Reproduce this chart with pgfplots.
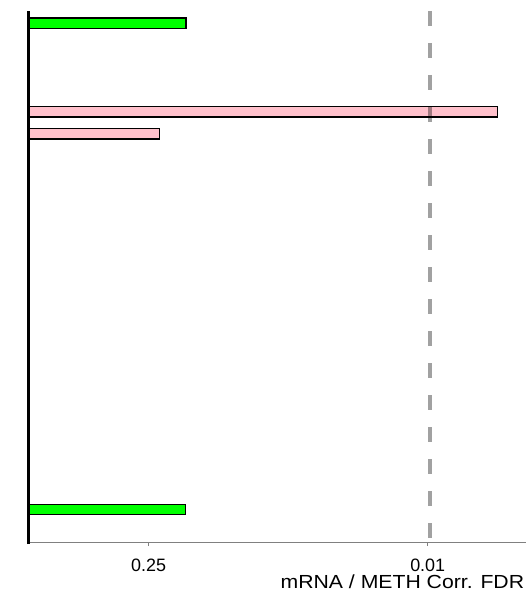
\documentclass[border=0pt]{standalone}
\usepackage{pgfplots}
\pgfplotsset{compat=1.18}
\usepackage{fontspec}
\setmainfont{Liberation Sans}
\definecolor{bargreen}{HTML}{00FF00}
\definecolor{barpink}{HTML}{FFC0CB}
\begin{document}
\begin{tikzpicture}
\begin{axis}[
  name=ax,
  scale only axis,
  width=497.5bp, height=531bp,
  xmin=0, xmax=2.4925,
  ymin=-0.557, ymax=23.47,
  y dir=reverse,
  separate axis lines,
  axis x line*=bottom,
  axis y line*=left,
  x axis line style={-, draw=black!50, line width=1bp},
  y axis line style={draw=none},
  ytick=\empty,
  xtick={0.60206,2},
  xticklabels={0.25,0.01},
  tick style={draw=black!50, line width=1bp},
  major tick length=4bp,
  tick align=outside,
  /pgf/number format/assume math mode=true,
  xticklabel style={font=\fontsize{18}{20}\selectfont, anchor=base, yshift=-25bp},
  clip=false,
]
\addplot[xbar, bar shift=0pt, bar width=10.5bp, fill=bargreen, draw=black, line width=1.2bp] coordinates {(0.789,0) (0.786,22)};
\addplot[xbar, bar shift=0pt, bar width=10.5bp, fill=barpink, draw=black, line width=1.2bp] coordinates {(2.351,4) (0.657,5)};
\addplot[mark=none, draw=black, opacity=0.37, line width=4bp, dash pattern=on 15bp off 17bp] coordinates {(2.013,-0.557) (2.013,23.47)};
\end{axis}
\draw[line width=3.7bp, black] ([yshift=-2bp]ax.south west) -- (ax.north west);
\node[anchor=base east, font=\fontsize{19}{21}\selectfont, inner sep=0pt] at ([xshift=-1.7bp, yshift=-46bp]ax.south east) {\scalebox{1.12}[1]{mRNA / METH Corr. FDR}};
\pgfresetboundingbox
\path[use as bounding box] ([xshift=-28.5bp,yshift=-59bp]ax.south west) rectangle ([yshift=11bp]ax.north east);
\end{tikzpicture}
\end{document}
